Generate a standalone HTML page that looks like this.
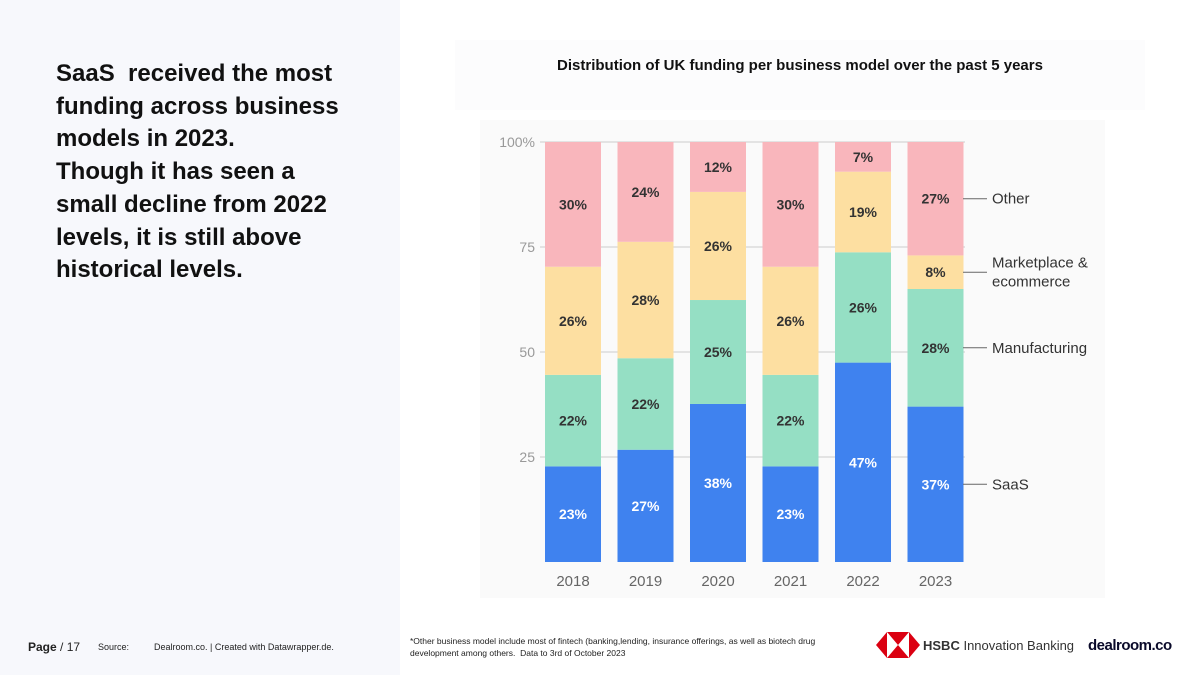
<!DOCTYPE html>
<html><head><meta charset="utf-8"><style>
body{margin:0;width:1200px;height:675px;position:relative;background:#fff;font-family:"Liberation Sans",sans-serif;overflow:hidden}
.left{position:absolute;left:0;top:0;width:400px;height:675px;background:#f7f8fc}
.head{position:absolute;left:56px;top:58px;font-size:24px;font-weight:bold;line-height:32.7px;color:#111}
.foot{position:absolute;font-size:10px;color:#222}
</style></head><body>
<div class="left"></div>
<div class="head">SaaS&nbsp; received the most<br>funding across business<br>models in 2023.<br>Though it has seen a<br>small decline from 2022<br>levels, it is still above<br>historical levels.</div>
<div style="position:absolute;left:455px;top:40px;width:690px;height:70px;background:#fcfcfd"></div>
<div style="position:absolute;left:455px;top:57px;width:690px;text-align:center;font-size:15px;font-weight:bold;color:#111">Distribution of UK funding per business model over the past 5 years</div>
<div style="position:absolute;left:480px;top:120px;width:625px;height:478px;background:#fafafa"></div>
<svg id="chart" width="1200" height="675" style="position:absolute;left:0;top:0"></svg>
<div class="foot" style="left:28px;top:640px;font-size:12px"><b>Page</b> / 17</div>
<div class="foot" style="left:98px;top:642px;font-size:9px">Source:</div>
<div class="foot" style="left:154px;top:642px;font-size:9px">Dealroom.co. | Created with Datawrapper.de.</div>
<div class="foot" style="left:410px;top:635px;font-size:8.5px;line-height:12px;width:420px">*Other business model include most of fintech (banking,lending, insurance offerings, as well as biotech drug development among others.&nbsp; Data to 3rd of October 2023</div>
<svg style="position:absolute;left:876px;top:632px" width="44" height="26"><polygon points="0,13 11,0 11,26" fill="#db0011"/><polygon points="44,13 33,0 33,26" fill="#db0011"/><polygon points="11,0 33,0 22,13" fill="#db0011"/><polygon points="11,26 33,26 22,13" fill="#db0011"/></svg>
<div class="foot" style="left:923px;top:638px;font-size:13px;color:#333"><b>HSBC</b> Innovation Banking</div>
<div class="foot" style="left:1088px;top:637px;font-size:15px;font-weight:bold;color:#0a0a2a;letter-spacing:-0.5px">dealroom.co</div>
<script>
const years=["2018","2019","2020","2021","2022","2023"];
const saas=[23,27,38,23,47,37];
const manufacturing=[22,22,25,22,26,28];
const marketplace=[26,28,26,26,19,8];
const other=[30,24,12,30,7,27];
const seriesNames=["SaaS","Manufacturing","Marketplace & ecommerce","Other"];
const yTicks=[25,50,75,100];
const NS="http://www.w3.org/2000/svg";
const svg=document.getElementById("chart");
const y0=562,pxPer=4.2;
const y=v=>y0-v*pxPer;
const xL=i=>545+i*72.5;
const bw=56;
const colors=["#3f82ef","#95dfc4","#fddfa1","#f9b6bc"];
const series=[saas,manufacturing,marketplace,other];
function mk(t,a){const e=document.createElementNS(NS,t);for(const k in a)e.setAttribute(k,a[k]);svg.appendChild(e);return e;}
yTicks.forEach(t=>{const g=mk("line",{x1:540,x2:965,y1:y(t),y2:y(t),stroke:"#ccc","stroke-width":1});


const l=mk("text",{x:535,y:y(t)+5,"text-anchor":"end","font-size":14,fill:"#999"});l.textContent=t===100?"100%":t;

});
const totals=years.map((_,i)=>series.reduce((a,s)=>a+s[i],0));
years.forEach((yr,i)=>{let c=0;const k=100/totals[i];
series.forEach((s,j)=>{const v=s[i]*k;const r=mk("rect",{x:xL(i),y:y(c+v),width:bw,height:v*pxPer,fill:colors[j]});


const t=mk("text",{x:xL(i)+bw/2,y:y(c+v/2)+5,"text-anchor":"middle","font-size":14,"font-weight":"bold",fill:j===0?"#fff":"#333"});t.textContent=s[i]+"%";


c+=v;});
const xl=mk("text",{x:xL(i)+bw/2,y:586,"text-anchor":"middle","font-size":15,fill:"#666"});xl.textContent=yr;

});
const last=years.length-1;let c=0;const kl=100/totals[last];
series.forEach((s,j)=>{const v=s[last]*kl;const mid=c+v/2;c+=v;const yy=y(mid);
const ln=mk("line",{x1:963,x2:987,y1:yy,y2:yy,stroke:"#666","stroke-width":1});


const lines=j===2?["Marketplace &","ecommerce"]:[seriesNames[j]];
lines.forEach((tx,k)=>{const t=mk("text",{x:992,y:yy+5+(k-(lines.length-1)/2)*19,"font-size":15,fill:"#333"});t.textContent=tx;

});});
</script>
</body></html>
